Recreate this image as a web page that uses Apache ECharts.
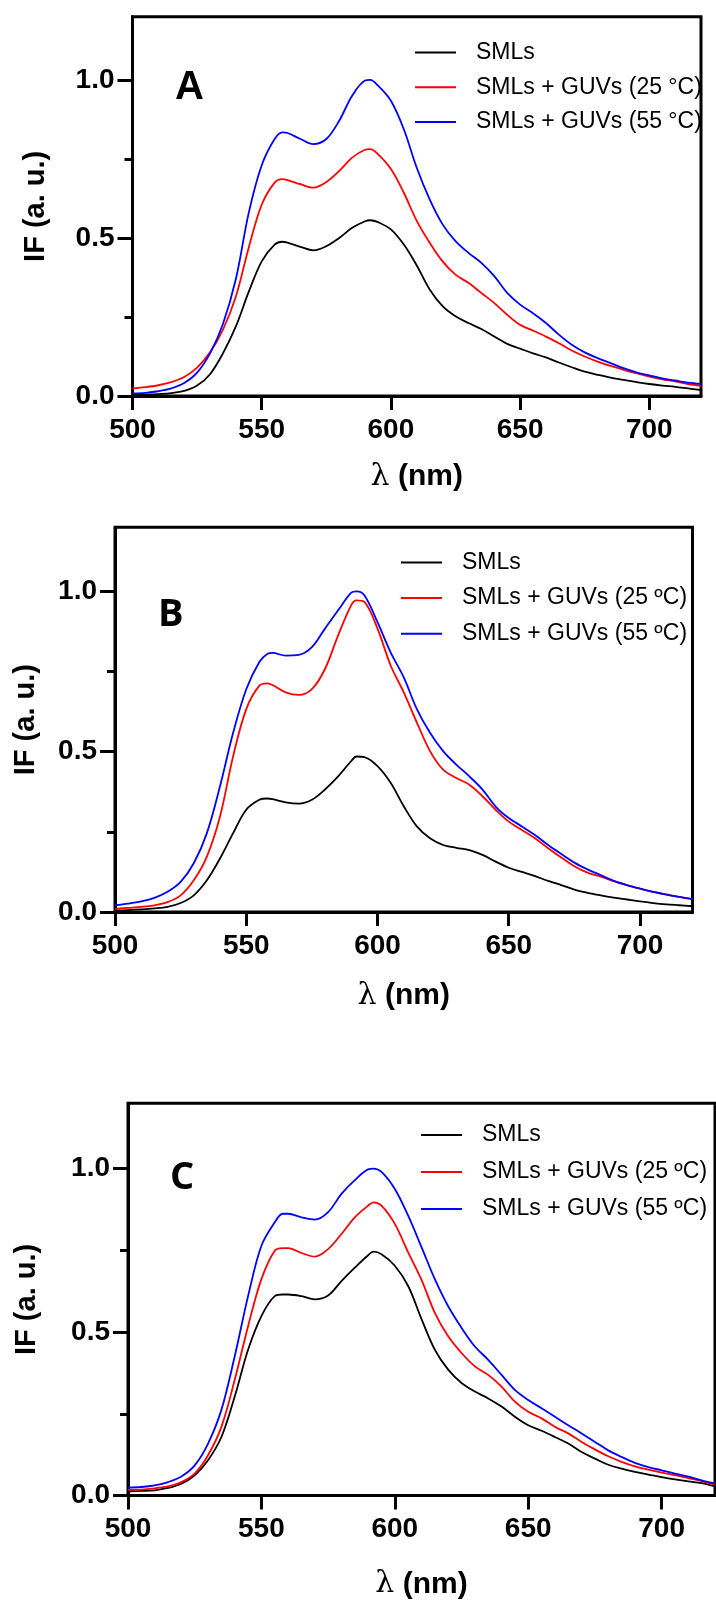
<!DOCTYPE html>
<html><head><meta charset="utf-8">
<script src="https://cdn.jsdelivr.net/npm/echarts@6/dist/echarts.min.js"></script>
<style>html,body{margin:0;padding:0;background:#fff}#c{width:716px;height:1603px}</style>
</head><body><div id="c"></div>
<script>
const wavelengths = [500,505,510,515,520,525,530,535,540,545,550,555,558,560,565,570,575,580,585,590,592,595,600,605,610,615,620,625,630,635,640,645,650,655,660,665,670,675,680,685,690,695,700,705,710,715,720];

const xTickLabels = [500,550,600,650,700];
const yTickLabels = [0,0.5,1.0];
const yMinorTicks = [0.25,0.75];

const seriesNamesA = ['SMLs','SMLs + GUVs (25 °C)','SMLs + GUVs (55 °C)'];
const seriesNamesBC = ['SMLs','SMLs + GUVs (25 ºC)','SMLs + GUVs (55 ºC)'];

const aBlack = [.003,.004,.006,.009,.016,.033,.069,.135,.22,.33,.426,.479,.488,.485,.472,.461,.474,.5,.532,.553,.556,.55,.527,.479,.413,.337,.284,.252,.231,.212,.188,.165,.15,.135,.122,.106,.091,.077,.067,.058,.051,.044,.038,.033,.029,.024,.019];
const aRed   = [.024,.028,.034,.044,.06,.09,.138,.21,.315,.47,.605,.675,.686,.683,.67,.659,.677,.712,.754,.779,.781,.765,.718,.643,.554,.485,.426,.384,.358,.326,.294,.257,.225,.207,.188,.167,.144,.125,.109,.095,.083,.072,.061,.053,.046,.038,.032];
const aBlue  = [.008,.01,.015,.024,.041,.074,.135,.228,.37,.58,.73,.813,.834,.832,.813,.797,.813,.871,.95,.998,1.0,.982,.934,.844,.722,.622,.543,.49,.453,.421,.379,.326,.289,.262,.231,.194,.162,.138,.12,.104,.088,.075,.065,.056,.049,.042,.038];

const bBlack = [.005,.006,.008,.011,.016,.028,.052,.099,.167,.246,.319,.35,.354,.352,.342,.338,.35,.382,.423,.471,.485,.483,.455,.403,.33,.267,.23,.209,.2,.193,.178,.157,.138,.125,.112,.097,.084,.07,.06,.052,.045,.039,.033,.028,.024,.021,.018];
const bRed   = [.01,.013,.016,.021,.031,.052,.099,.173,.298,.486,.633,.706,.713,.708,.685,.677,.695,.758,.863,.957,.972,.967,.884,.769,.685,.591,.502,.444,.418,.397,.361,.319,.282,.256,.23,.199,.17,.143,.123,.11,.096,.084,.073,.063,.055,.047,.04];
const bBlue  = [.021,.026,.033,.044,.063,.094,.152,.246,.392,.559,.695,.78,.805,.808,.8,.802,.826,.884,.941,.996,1.0,.988,.904,.81,.732,.633,.559,.502,.46,.423,.382,.329,.293,.267,.24,.209,.181,.154,.133,.115,.097,.084,.073,.063,.054,.047,.04];

const cBlack = [.013,.014,.016,.023,.036,.062,.108,.179,.303,.446,.549,.61,.615,.615,.61,.6,.612,.656,.697,.735,.746,.738,.703,.641,.54,.446,.385,.344,.318,.297,.272,.241,.215,.198,.179,.159,.133,.113,.094,.082,.072,.064,.056,.049,.043,.038,.028];
const cRed   = [.017,.018,.022,.028,.041,.067,.123,.21,.354,.518,.662,.749,.757,.757,.742,.731,.754,.8,.851,.887,.897,.887,.831,.744,.66,.559,.487,.436,.395,.369,.333,.287,.256,.236,.21,.19,.164,.141,.12,.103,.089,.079,.07,.062,.053,.044,.033];
const cBlue  = [.024,.026,.031,.041,.058,.092,.159,.262,.426,.61,.764,.836,.862,.862,.851,.844,.867,.923,.965,.998,1.0,.99,.938,.856,.76,.662,.579,.513,.456,.415,.369,.323,.292,.267,.241,.215,.19,.164,.138,.118,.1,.087,.077,.067,.058,.046,.036];

const colors = ['#000000','#ff0000','#0000ff'];
const FONT = "'Liberation Sans', Arial, sans-serif";

const panels = [
  {grid:{left:132.5, top:16.7, width:568.5, height:379.3}, names:seriesNamesA, vals:[aBlack,aRed,aBlue], yGap:82, xGap:66,
   legend:{left:410, top:36, itemGap:11.8}, letter:{text:'A', left:175, top:68}},
  {grid:{left:115, top:527.3, width:577.5, height:384.7}, names:seriesNamesBC, vals:[bBlack,bRed,bBlue], yGap:74.5, xGap:69,
   legend:{left:396, top:546, itemGap:12.6}, letter:{text:'B', left:158, top:596}},
  {grid:{left:128, top:1103.3, width:587, height:392.2}, names:seriesNamesBC, vals:[cBlack,cRed,cBlue], yGap:87, xGap:74,
   legend:{left:416, top:1118.5, itemGap:14}, letter:{text:'C', left:170, top:1159}}
];

const option = {animation:false, backgroundColor:'#fff', grid:[], xAxis:[], yAxis:[], series:[], legend:[], title:[]};

panels.forEach((p, gi) => {
  option.grid.push(Object.assign({show:true, borderColor:'#000', borderWidth:3, backgroundColor:'transparent', outerBoundsMode:'none', containLabel:false}, p.grid));
  option.xAxis.push({
    type:'value', gridIndex:gi, min:500, max:720, interval:50, position:'bottom',
    name:'{l|λ}{b| (nm)}', nameLocation:'middle', nameGap:p.xGap,
    nameTextStyle:{rich:{l:{fontFamily:"'DejaVu Serif', 'Liberation Serif', serif", fontSize:30, color:'#000'}, b:{fontFamily:FONT, fontWeight:'bold', fontSize:30, color:'#000'}}},
    axisLine:{show:true, onZero:false, lineStyle:{color:'#000', width:3}},
    axisTick:{show:true, inside:false, length:14, lineStyle:{color:'#000', width:3}, customValues:xTickLabels},
    axisLabel:{show:true, margin:20, fontFamily:FONT, fontWeight:'bold', fontSize:28, color:'#000', customValues:xTickLabels},
    splitLine:{show:false}
  });
  option.yAxis.push({
    type:'value', gridIndex:gi, min:0, max:1.2, interval:0.5, position:'left',
    name:'IF (a. u.)', nameLocation:'middle', nameGap:p.yGap, nameRotate:90,
    nameTextStyle:{fontFamily:FONT, fontWeight:'bold', fontSize:29, color:'#000'},
    axisLine:{show:true, onZero:false, lineStyle:{color:'#000', width:3}},
    axisTick:{show:true, inside:false, length:15, lineStyle:{color:'#000', width:3}, customValues:yTickLabels},
    axisLabel:{show:true, margin:18, fontFamily:FONT, fontWeight:'bold', fontSize:28, color:'#000', customValues:yTickLabels,
      formatter: v => v.toFixed(1)},
    splitLine:{show:false}
  });
  option.yAxis.push({
    type:'value', gridIndex:gi, min:0, max:1.2, interval:0.25, position:'left',
    axisLine:{show:false},
    axisTick:{show:true, inside:false, length:8, lineStyle:{color:'#000', width:3}, customValues:yMinorTicks},
    axisLabel:{show:false}, splitLine:{show:false}
  });
  p.names.forEach((nm, si) => {
    option.series.push({
      type:'line', name:nm, xAxisIndex:gi, yAxisIndex:gi*2, showSymbol:false, symbol:'none', smooth:0.35,
      lineStyle:{color:colors[si], width:1.8}, itemStyle:{color:colors[si]},
      data: wavelengths.map((w,i) => [w, p.vals[si][i]]), z:3
    });
  });
  option.legend.push({
    orient:'vertical', left:p.legend.left, top:p.legend.top, itemGap:p.legend.itemGap,
    itemWidth:41, itemHeight:2, icon:'rect', data:p.names, selectedMode:false,
    textStyle:{fontFamily:FONT, fontSize:23, color:'#000', padding:[0,0,0,15]}
  });
  option.title.push({text:p.letter.text, left:p.letter.left, top:p.letter.top, padding:0,
    textStyle:{fontFamily: gi===0 ? FONT : "'Open Sans', 'Noto Sans', sans-serif", fontWeight:'bold', fontSize: gi===0 ? 40 : 38, color:'#000'}});
});

const chart = echarts.init(document.getElementById('c'), null, {renderer:'canvas', width:716, height:1603});
chart.setOption(option);
</script>
</body></html>
